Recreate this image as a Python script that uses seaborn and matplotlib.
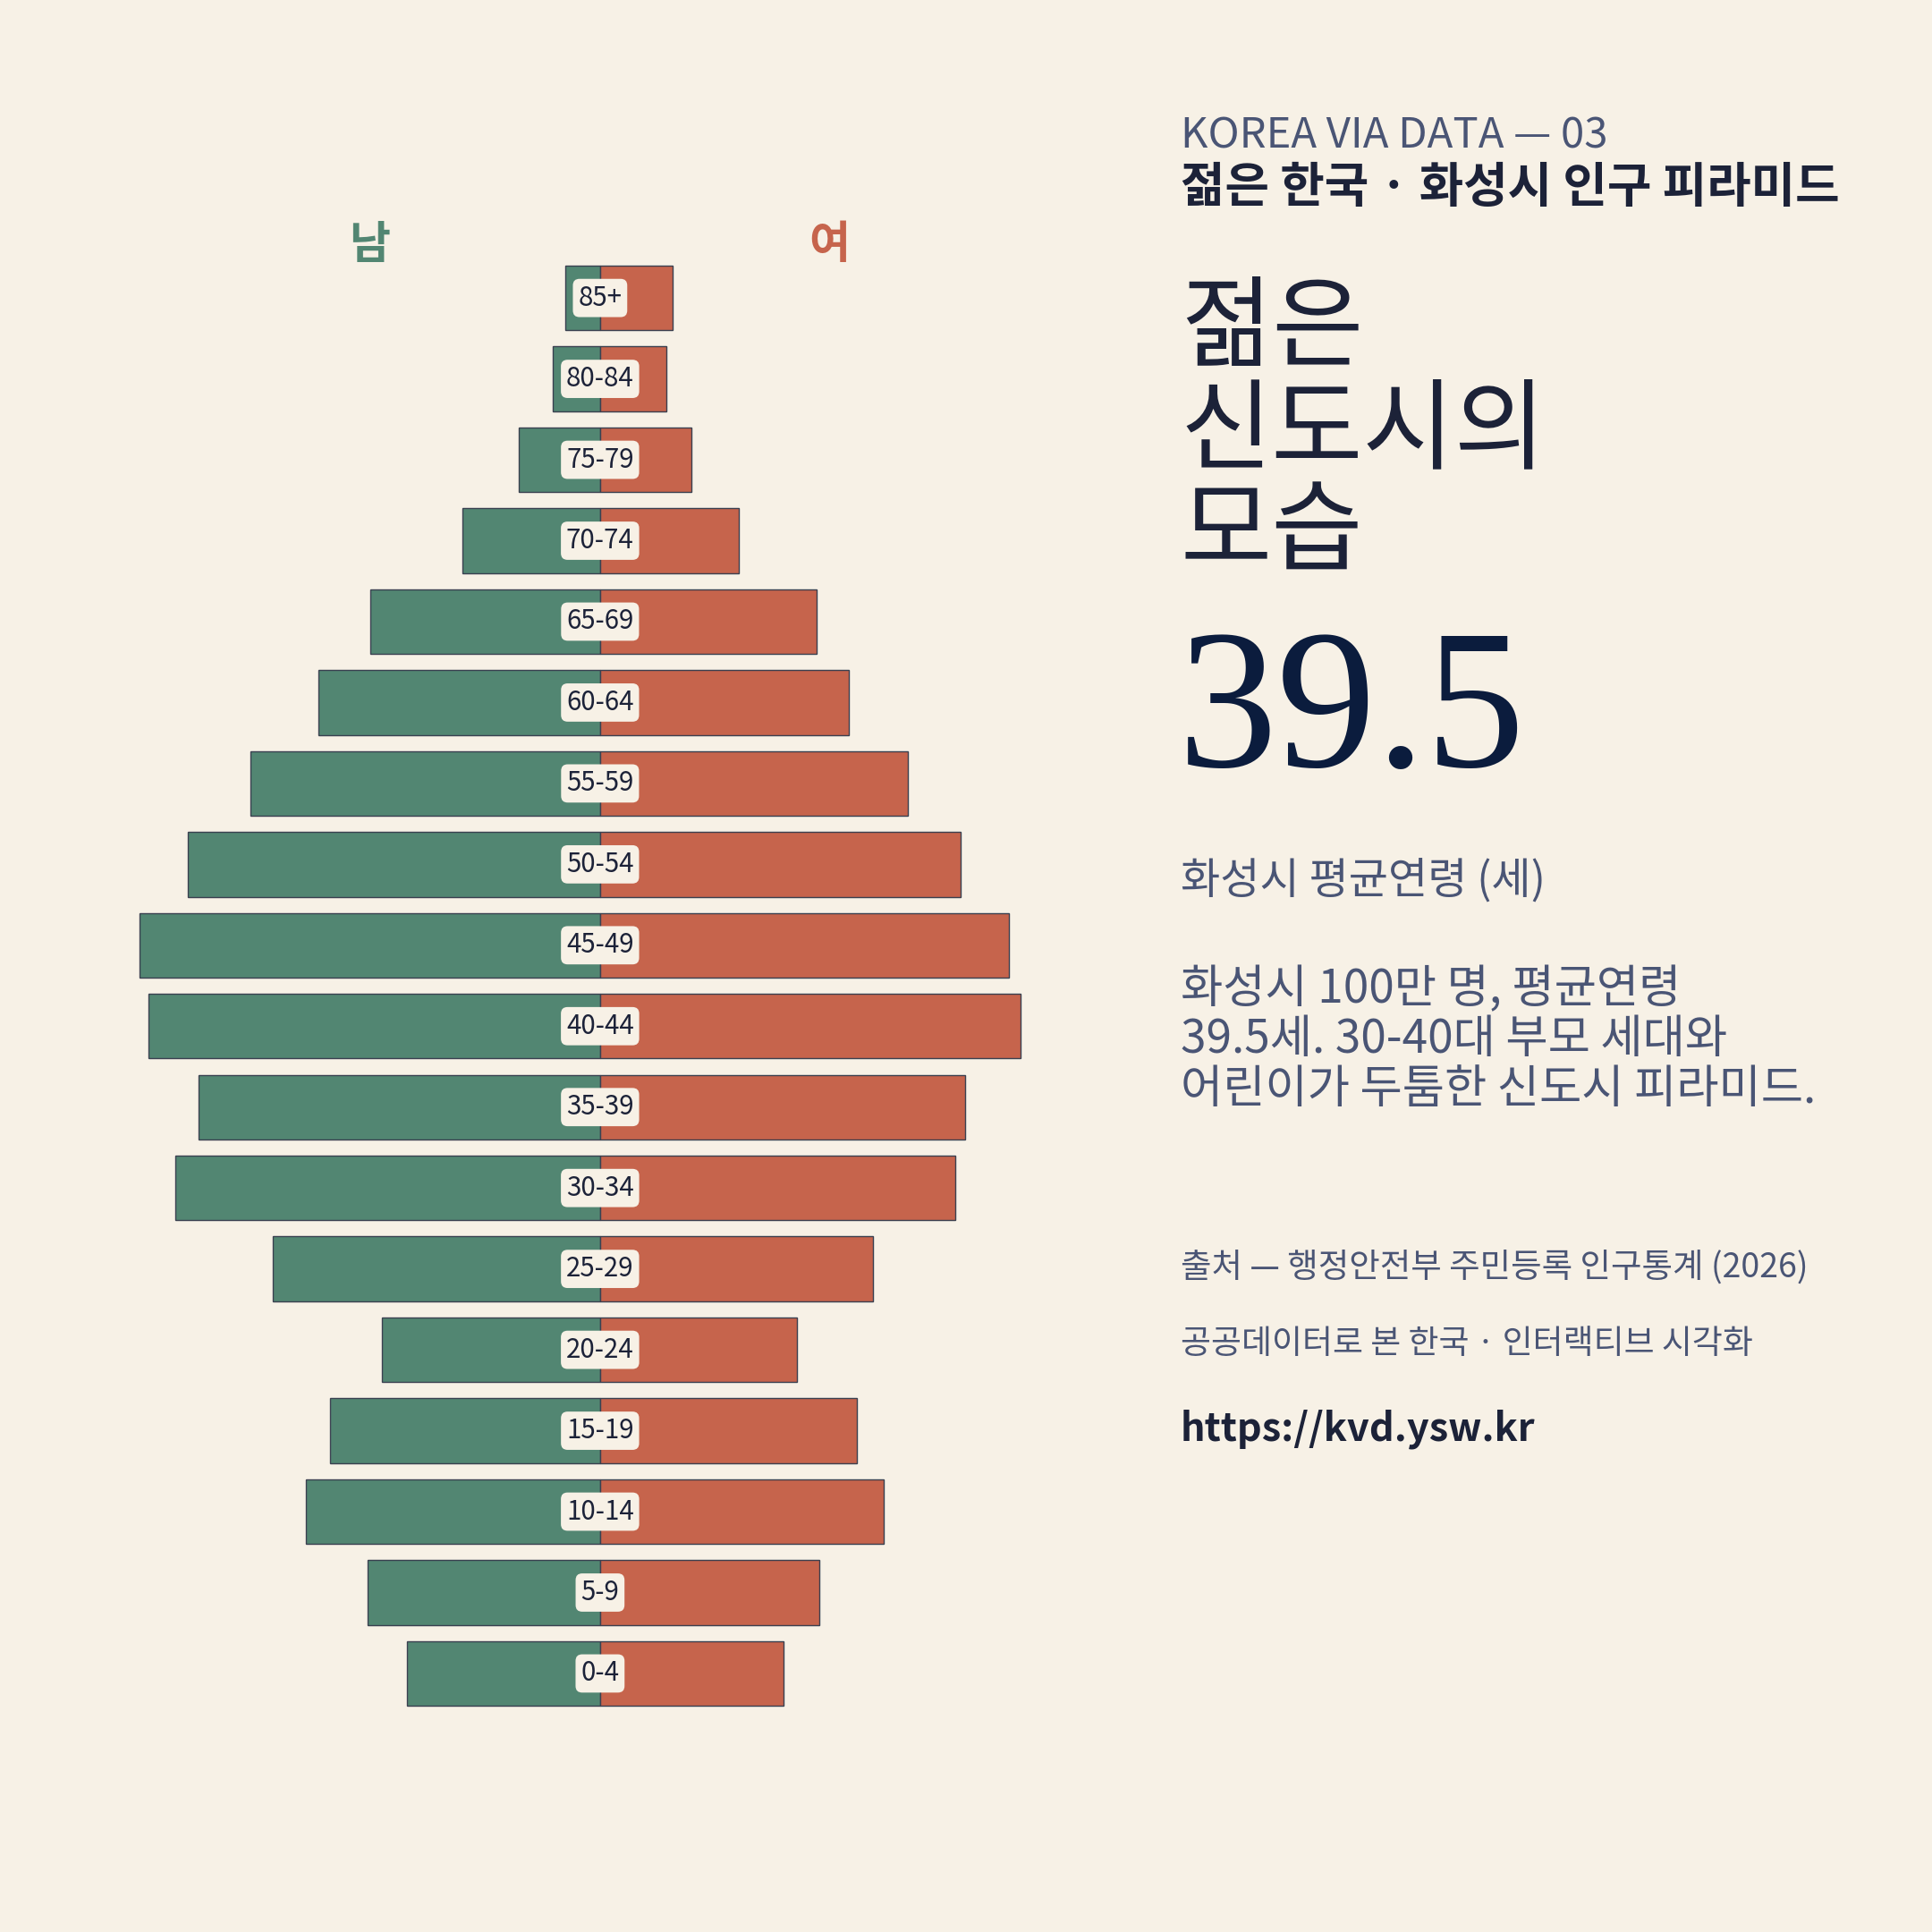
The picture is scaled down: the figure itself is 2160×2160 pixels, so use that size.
import matplotlib
matplotlib.use('Agg')
import matplotlib.pyplot as plt
import seaborn as sns
import pandas as pd
import numpy as np

# Hwaseong population pyramid (thousand persons)
ages = ['85+', '80-84', '75-79', '70-74', '65-69', '60-64', '55-59', '50-54', '45-49',
        '40-44', '35-39', '30-34', '25-29', '20-24', '15-19', '10-14', '5-9', '0-4']
male = [3.7, 5.1, 8.7, 14.8, 24.6, 30.2, 37.5, 44.2, 49.4,
        48.4, 43.0, 45.5, 35.1, 23.4, 28.9, 31.5, 24.9, 20.7]
female = [7.8, 7.1, 9.8, 14.9, 23.2, 26.7, 33.0, 38.7, 43.8,
          45.1, 39.1, 38.1, 29.3, 21.1, 27.5, 30.4, 23.5, 19.7]

BG = '#F7F1E6'
GREEN = '#528672'
RED = '#C6644C'
EDGE = '#3A4050'
NAVY = '#1C2238'
SLATE = '#4A5575'

sns.set_theme(style='white')
plt.rcParams['font.family'] = ['Noto Sans CJK KR', 'DejaVu Sans']
plt.rcParams['axes.unicode_minus'] = False

df = pd.DataFrame({'age': ages, 'male': [-v for v in male], 'female': female})

fig = plt.figure(figsize=(10.8, 10.8), dpi=200, facecolor=BG)


def fx(px):
    return px / 1568


def fy(px):
    return 1 - px / 1568


# pyramid axes
ax = fig.add_axes([fx(60), fy(1391), fx(854), fx(1391 - 209)])
ax.set_facecolor(BG)
sns.barplot(data=df, x='male', y='age', order=ages, color=GREEN, saturation=1,
            edgecolor=EDGE, linewidth=0.5, width=0.8, errorbar=None, ax=ax)
sns.barplot(data=df, x='female', y='age', order=ages, color=RED, saturation=1,
            edgecolor=EDGE, linewidth=0.5, width=0.8, errorbar=None, ax=ax)
ax.set_xlim(-56.4, 56.4)
ax.set_ylim(17.5, -0.5)
ax.axis('off')

for i, a in enumerate(ages):
    ax.text(0, i, a, ha='center', va='center', fontsize=10.6, color=NAVY,
            bbox=dict(boxstyle='round,pad=0.2,rounding_size=0.25', facecolor=BG,
                      edgecolor='none'))

fig.text(fx(300), fy(199), '남', ha='center', va='center', fontsize=18,
         fontweight='bold', color=GREEN)
fig.text(fx(673), fy(199), '여', ha='center', va='center', fontsize=18,
         fontweight='bold', color=RED)

# right-hand text column
X0 = fx(958)
fig.text(X0, fy(120), 'KOREA VIA DATA — 03', ha='left', va='baseline',
         fontsize=17, color=SLATE)
fig.text(X0, fy(153), '젊은 한국 · 화성시 인구 피라미드', ha='left', va='center',
         fontsize=19.4, fontweight='bold', color=NAVY)

for yy, line in zip([268, 351, 434], ['젊은', '신도시의', '모습']):
    fig.text(X0, fy(yy), line, ha='left', va='center', fontsize=40, color=NAVY)

fig.text(fx(956), fy(622), '39.5', ha='left', va='baseline', fontsize=80,
         family='Liberation Serif', color='#0B1C3D')

fig.text(X0, fy(715), '화성시 평균연령 (세)', ha='left', va='center',
         fontsize=17.3, fontweight='light', color=SLATE)

para = ['화성시 100만 명, 평균연령', '39.5세. 30-40대 부모 세대와', '어린이가 두툼한 신도시 피라미드.']
for yy, line in zip([803, 844, 884], para):
    fig.text(X0, fy(yy), line, ha='left', va='center', fontsize=18.5,
             fontweight='light', color=SLATE)

fig.text(X0, fy(1029), '출처 — 행정안전부 주민등록 인구통계 (2026)', ha='left', va='center',
         fontsize=13.5, fontweight='light', color=SLATE)
fig.text(X0, fy(1091), '공공데이터로 본 한국 · 인터랙티브 시각화', ha='left', va='center',
         fontsize=13.3, fontweight='light', color=SLATE)
fig.text(X0, fy(1160), 'https://kvd.ysw.kr', ha='left', va='center',
         fontsize=15.6, fontweight='bold', color=NAVY)

fig.savefig('out.png', dpi=200, facecolor=BG)
